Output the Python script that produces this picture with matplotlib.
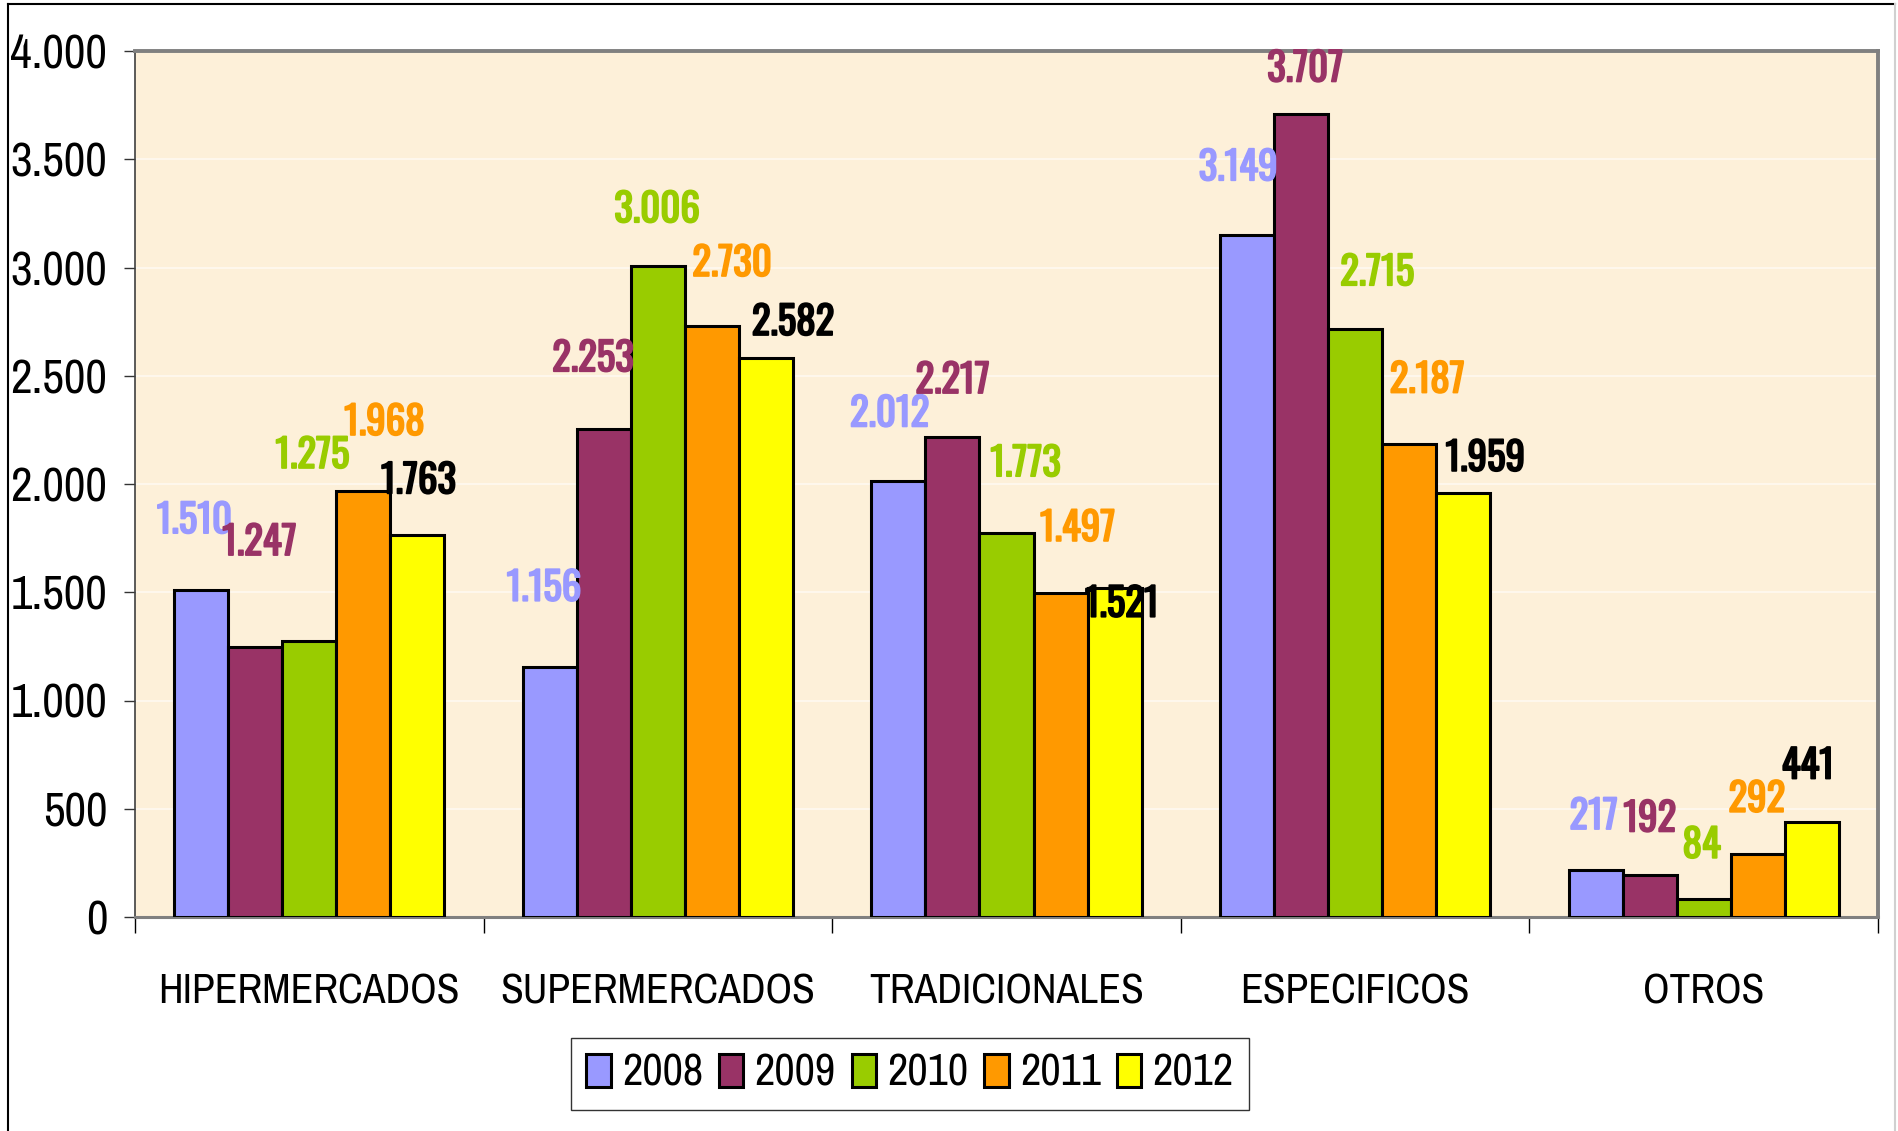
import numpy as np
import matplotlib.pyplot as plt
import matplotlib.patheffects as pe
from matplotlib.lines import Line2D
from matplotlib.patches import Patch


CATEGORIES = ["HIPERMERCADOS", "SUPERMERCADOS", "TRADICIONALES", "ESPECIFICOS", "OTROS"]
YEARS = ["2008", "2009", "2010", "2011", "2012"]

values_2008 = [1510, 1156, 2012, 3149, 217]
values_2009 = [1247, 2253, 2217, 3707, 192]
values_2010 = [1275, 3006, 1773, 2715, 84]
values_2011 = [1968, 2730, 1497, 2187, 292]
values_2012 = [1763, 2582, 1521, 1959, 441]

Y_TICKS = [0, 500, 1000, 1500, 2000, 2500, 3000, 3500, 4000]

BAR_COLORS = ["#9999FF", "#993366", "#99CC00", "#FF9900", "#FFFF00"]
LABEL_COLORS = ["#9999FF", "#993366", "#99CC00", "#FF9900", "#000000"]

# hand placed data labels (pixel offsets of label centre from bar top: dx, up)
LABEL_DX = [
    [-7, -6, -9, -9, -2],
    [4, -11, 0, 4, 0],
    [3, -1, 19, 22, -2],
    [21, 20, 17, 18, -1],
    [1, 27, 7, 22, -4],
]
LABEL_UP = [
    [71, 80, 69, 69, 55],
    [106, 72, 58, 47, 58],
    [187, 58, 71, 58, 55],
    [70, 64, 66, 65, 56],
    [56, 37, -15, 36, 57],
]

FONT = ["Arial Narrow", "Liberation Sans Narrow", "Archivo Narrow",
        "Roboto Condensed", "IBM Plex Sans Condensed", "DejaVu Sans"]
LABEL_FONT = ["Oswald", "IBM Plex Sans Condensed", "DejaVu Sans"]
plt.rcParams["font.family"] = FONT


def fmt(v):
    return f"{v:,}".replace(",", ".")


def main():
    series = [values_2008, values_2009, values_2010, values_2011, values_2012]

    W, H = 1898, 1131
    fig = plt.figure(figsize=(W / 100, H / 100), dpi=100)
    fig.patch.set_facecolor("white")

    left, right, top, bottom = 135, 1878, 51, 917
    ax = fig.add_axes([left / W, 1 - bottom / H, (right - left) / W, (bottom - top) / H])
    ax.set_facecolor("#FDF0D9")

    x = np.arange(len(CATEGORIES))
    bw = 0.155

    for i, (vals, col) in enumerate(zip(series, BAR_COLORS)):
        xs = x + (i - 2) * bw
        ax.bar(xs, vals, width=bw, color=col, edgecolor="black",
               linewidth=2.2, zorder=3, label=YEARS[i])
        for j, v in enumerate(vals):
            # Oswald is light here, a thin stroke in the same colour makes it bold
            ax.annotate(fmt(v), xy=(xs[j], v),
                        xytext=(LABEL_DX[i][j], LABEL_UP[i][j] - 14),
                        textcoords="offset pixels", ha="center", va="baseline",
                        fontsize=28, family=LABEL_FONT,
                        color=LABEL_COLORS[i], zorder=5,
                        path_effects=[pe.withStroke(linewidth=1.3,
                                                    foreground=LABEL_COLORS[i])])

    ax.set_xlim(-0.5, len(CATEGORIES) - 0.5)
    ax.set_ylim(0, 4000)

    # y axis
    ax.set_yticks(Y_TICKS)
    ax.set_yticklabels([fmt(t) for t in Y_TICKS], fontsize=34)
    ax.tick_params(axis="y", length=8, width=1, color="#333333", pad=12)
    ax.grid(axis="y", color="#FFF9F0", linewidth=1.2, zorder=1)
    ax.set_axisbelow(True)

    # x axis: ticks between categories, labels centred
    ax.set_xticks(np.arange(-0.5, len(CATEGORIES), 1.0))
    ax.set_xticklabels([])
    ax.tick_params(axis="x", which="major", length=11.5, width=1, color="black")
    ax.set_xticks(x, minor=True)
    ax.set_xticklabels(CATEGORIES, minor=True, fontsize=30)
    ax.tick_params(axis="x", which="minor", length=0, pad=40)

    for side in ["top", "right"]:
        ax.spines[side].set_color("#808080")
        ax.spines[side].set_linewidth(2.8)
    ax.spines["bottom"].set_color("#808080")
    ax.spines["bottom"].set_linewidth(2.2)
    ax.spines["left"].set_color("#404040")
    ax.spines["left"].set_linewidth(1.2)

    # legend
    handles = [Patch(facecolor=c, edgecolor="black", linewidth=2.2) for c in BAR_COLORS]
    leg = fig.legend(handles, YEARS, loc="center",
                     bbox_to_anchor=(910 / W, 1 - 1074 / H), ncol=5,
                     fontsize=32, frameon=True, fancybox=False,
                     handlelength=0.55, handleheight=0.75, handletextpad=0.25,
                     columnspacing=0.36, borderpad=0.35)
    leg.get_frame().set_edgecolor("black")
    leg.get_frame().set_linewidth(1)

    # outer chart frame (cut at bottom)
    fig.add_artist(Line2D([8 / W, 8 / W], [0, 1 - 4 / H], color="black", linewidth=1.5,
                          transform=fig.transFigure))
    fig.add_artist(Line2D([8 / W, 1895 / W], [1 - 4 / H, 1 - 4 / H], color="black",
                          linewidth=1.5, transform=fig.transFigure))
    fig.add_artist(Line2D([1895 / W, 1895 / W], [0, 1 - 4 / H], color="#D0D0D0",
                          linewidth=1.5, transform=fig.transFigure))

    plt.savefig("out.png", dpi=100)
    plt.close()


if __name__ == "__main__":
    main()
